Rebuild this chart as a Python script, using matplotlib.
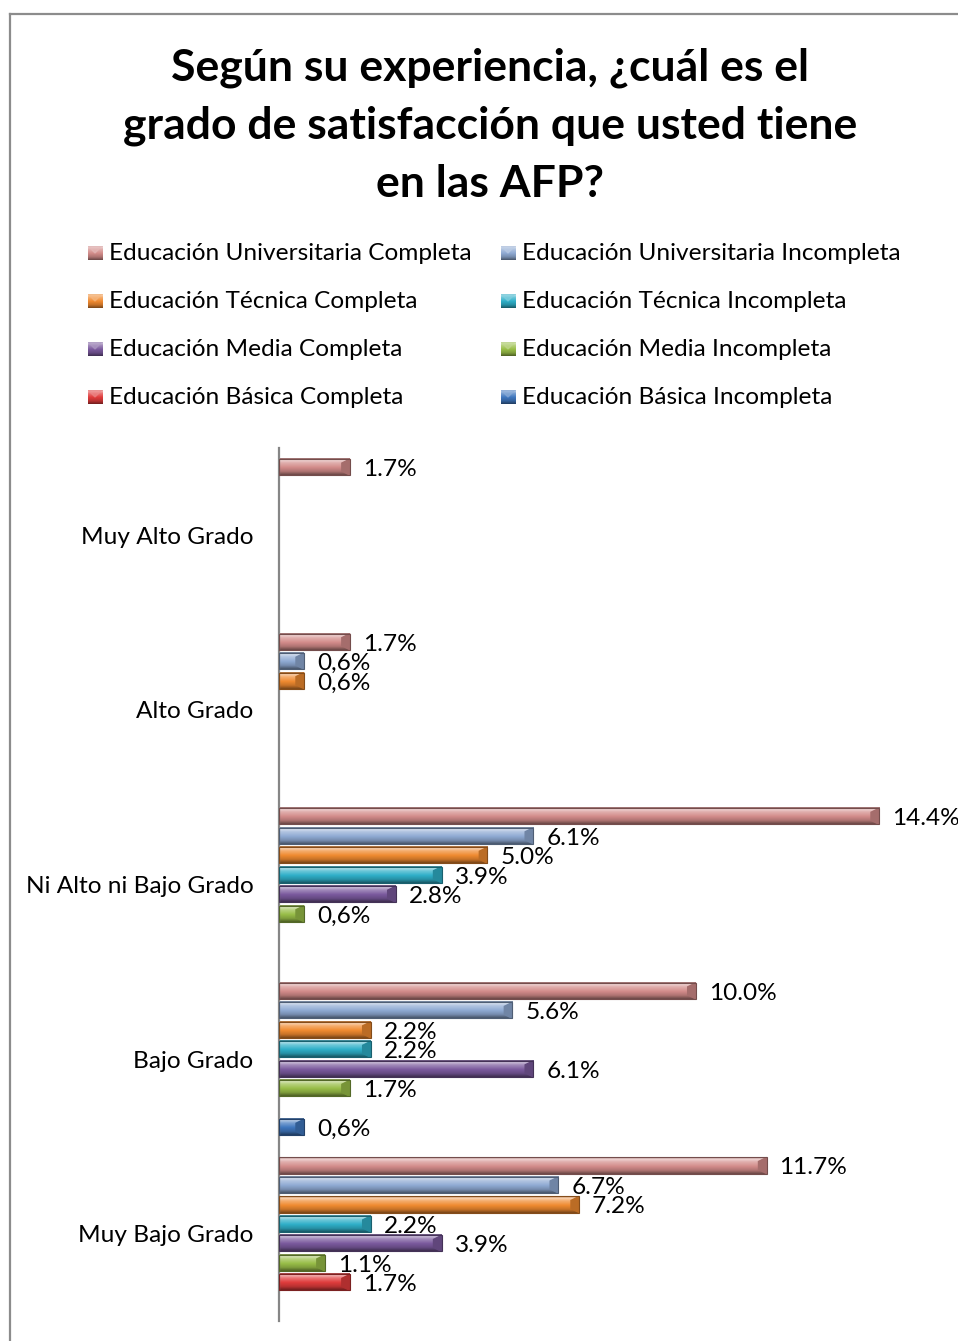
import numpy as np
import matplotlib
matplotlib.use("Agg")
import matplotlib.pyplot as plt
from matplotlib.patches import Polygon, Rectangle
from matplotlib.lines import Line2D
from matplotlib.colors import to_rgb, LinearSegmentedColormap

plt.rcParams['font.family'] = ['Lato', 'DejaVu Sans']

categories = ["Muy Alto Grado", "Alto Grado", "Ni Alto ni Bajo Grado",
              "Bajo Grado", "Muy Bajo Grado"]

series_names = [
    "Educación Universitaria Completa", "Educación Universitaria Incompleta",
    "Educación Técnica Completa", "Educación Técnica Incompleta",
    "Educación Media Completa", "Educación Media Incompleta",
    "Educación Básica Completa", "Educación Básica Incompleta",
]

nan = np.nan
univ_completa = [1.7, 1.7, 14.4, 10.0, 11.7]
univ_incompleta = [nan, 0.6, 6.1, 5.6, 6.7]
tecn_completa = [nan, 0.6, 5.0, 2.2, 7.2]
tecn_incompleta = [nan, nan, 3.9, 2.2, 2.2]
media_completa = [nan, nan, 2.8, 6.1, 3.9]
media_incompleta = [nan, nan, 0.6, 1.7, 1.1]
basica_completa = [nan, nan, nan, nan, 1.7]
basica_incompleta = [nan, nan, nan, 0.6, nan]

series_values = [univ_completa, univ_incompleta, tecn_completa, tecn_incompleta,
                 media_completa, media_incompleta, basica_completa, basica_incompleta]

colors = ["#D38C8A", "#8FAAD3", "#F08A30", "#2FAFC8",
          "#7B5A9E", "#99BE48", "#E03C3C", "#3F77BE"]

W, H = 958, 1341
fig = plt.figure(figsize=(W / 100, H / 100), dpi=100)

FS = 17.6


def fx(px):
    return px / W


def fy(py):
    return 1 - py / H


def mix(c, other, f):
    c = np.array(to_rgb(c))
    return tuple(c + (np.array(other) - c) * f)


def bevel_cmap(c):
    stops = [
        (0.00, mix(c, (0, 0, 0), 0.35)),
        (0.10, mix(c, (1, 1, 1), 0.65)),
        (0.28, mix(c, (1, 1, 1), 0.30)),
        (0.55, to_rgb(c)),
        (0.80, mix(c, (0, 0, 0), 0.18)),
        (1.00, mix(c, (0, 0, 0), 0.50)),
    ]
    return LinearSegmentedColormap.from_list("bevel", stops)


# chart frame
fig.add_artist(Line2D([fx(10), fx(10)], [fy(14), 0], color="#8c8c8c", lw=1.6))
fig.add_artist(Line2D([fx(10), 1], [fy(14), fy(14)], color="#8c8c8c", lw=1.6))

# title
title_lines = ["Según su experiencia, ¿cuál es el",
               "grado de satisfacción que usted tiene",
               "en las AFP?"]
for k, line in enumerate(title_lines):
    fig.text(fx(490), fy(68 + 58 * k), line, ha="center", va="center",
             fontsize=32, fontweight="bold")

# legend
leg_x = [95, 508]
leg_y = [253, 301, 349, 397]
gradient = np.linspace(0, 1, 64).reshape(-1, 1)
for k, name in enumerate(series_names):
    col, row = k % 2, k // 2
    x0, y0 = leg_x[col], leg_y[row]
    s = 15
    lax = fig.add_axes([fx(x0 - s / 2), fy(y0 + s / 2), s / W, s / H])
    lax.imshow(gradient, cmap=bevel_cmap(colors[k]), aspect="auto",
               extent=(0, 1, 1, 0), origin="upper")
    lax.add_patch(Polygon([(0, 0), (1, 0), (0.5, 0.5)], closed=True,
                          color=mix(colors[k], (1, 1, 1), 0.4), alpha=0.6))
    lax.set_xlim(0, 1)
    lax.set_ylim(1, 0)
    lax.axis("off")
    fig.text(fx(x0 + 14), fy(y0), name, ha="left", va="center", fontsize=FS)

# main axes
ax_left, ax_top, ax_bottom = 279, 448, 1321
ax = fig.add_axes([fx(ax_left), fy(ax_bottom), 1 - fx(ax_left), (ax_bottom - ax_top) / H])
px_per_unit = 600 / 14.4
xmax = (W - ax_left) / px_per_unit

n = len(series_names)
step = 0.1116
bar_h = 0.092
y_idx = np.arange(len(categories))

for j, vals in enumerate(series_values):
    vals = np.array(vals, dtype=float)
    pos = y_idx + (j - (n - 1) / 2) * step
    bars = ax.barh(pos, vals, height=bar_h, color=colors[j], edgecolor="none")
    cmap = bevel_cmap(colors[j])
    for b, v in zip(bars, vals):
        if np.isnan(v):
            continue
        x0, yb, w, h = b.get_x(), b.get_y(), b.get_width(), b.get_height()
        ax.imshow(gradient, cmap=cmap, aspect="auto", origin="upper",
                  extent=(x0, x0 + w, yb + h, yb), zorder=2)
        cap = 8 / px_per_unit
        ax.add_patch(Polygon([(x0 + w - cap, yb + 0.25 * h), (x0 + w, yb),
                              (x0 + w, yb + h), (x0 + w - cap, yb + 0.75 * h)],
                             closed=True, color=mix(colors[j], (0, 0, 0), 0.22), zorder=3))
        ax.add_patch(Rectangle((x0, yb), w, h, fill=False, lw=0.8,
                               edgecolor=mix(colors[j], (0, 0, 0), 0.45), zorder=4))
        txt = f"{v:.1f}%"
        if v < 1:
            txt = txt.replace(".", ",")
        ax.text(x0 + w + 13 / px_per_unit, yb + h / 2 + 0.014, txt,
                ha="left", va="center", fontsize=FS, zorder=5)

ax.set_xlim(0, xmax)
ax.set_ylim(len(categories) - 0.5, -0.5)
ax.set_yticks(y_idx)
ax.set_yticklabels(categories, fontsize=FS)
ax.tick_params(axis="y", length=0, pad=18.5)
ax.set_xticks([])
for side in ["top", "right", "bottom"]:
    ax.spines[side].set_visible(False)
ax.spines["left"].set_color("#868686")
ax.spines["left"].set_linewidth(1.6)
ax.patch.set_alpha(0)

fig.savefig("out.png", dpi=100)
